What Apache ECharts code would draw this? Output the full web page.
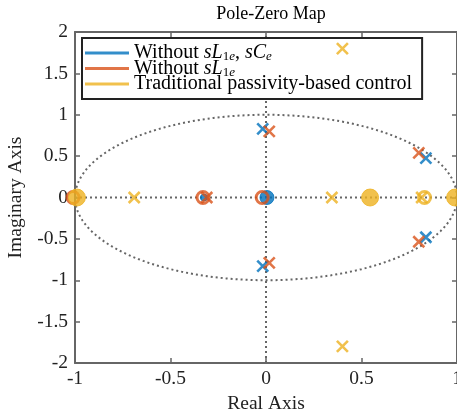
<!DOCTYPE html>
<html>
<head>
<meta charset="utf-8">
<script src="https://cdn.jsdelivr.net/npm/echarts@6/dist/echarts.min.js"></script>
<style>
  html, body { margin: 0; padding: 0; background: #fff; }
  #chart { width: 457px; height: 419px; }
</style>
</head>
<body>
<div id="chart"></div>
<script>
const seriesNames = ['Without sL1e, sCe', 'Without sL1e', 'Traditional passivity-based control'];
const xTicks = [-1, -0.5, 0, 0.5, 1];
const yTicks = [-2, -1.5, -1, -0.5, 0, 0.5, 1, 1.5, 2];

// poles (x) and zeros (o)
const bluePoles = [[-0.017, 0.83], [-0.017, -0.83], [0.837, 0.475], [0.837, -0.48]];
const blueZeros = [[-0.325, 0], [0.005, 0]];
const orangePoles = [[0.017, 0.80], [0.017, -0.79], [0.80, 0.54], [0.80, -0.535], [-0.31, 0]];
const orangeZeros = [[-0.33, 0], [-0.02, 0], [-1.01, 0]];
const yellowPoles = [[0.4, 1.8], [0.4, -1.8], [0.345, 0], [-0.69, 0], [0.815, 0]];
const yellowZeros = [[0.83, 0]];
const yellowRepeatedZeros = [[-0.99, 0], [0.545, 0], [0.99, 0]];

const colors = ['#0072BD', '#D95319', '#EDB120'];
const font = 'Liberation Serif';
const cross = 'path://M0,0L10,10M10,0L0,10';

const chart = echarts.init(document.getElementById('chart'));

// unit circle guide of the pole-zero map
const unitCircle = [];
for (let a = 0; a <= 360; a += 2) {
    unitCircle.push([Math.cos(a * Math.PI / 180), Math.sin(a * Math.PI / 180)]);
}

const guide = (name, data) => ({
    name: name,
    type: 'line',
    data: data,
    symbol: 'none',
    silent: true,
    z: 1,
    lineStyle: {color: '#666', width: 2, type: [2, 3]}
});

const poles = (i, data, z) => ({
    name: seriesNames[i],
    type: 'scatter',
    data: data,
    symbol: cross,
    symbolSize: 11,
    clip: false,
    z: z,
    itemStyle: {color: 'none', borderColor: colors[i], borderWidth: 2.6}
});

const zeros = (i, data, size, filled, z) => ({
    name: seriesNames[i],
    type: 'scatter',
    data: data,
    symbol: 'circle',
    symbolSize: size,
    clip: false,
    z: z,
    itemStyle: filled
        ? {color: colors[i], borderColor: colors[i], borderWidth: 1}
        : {color: 'rgba(0,0,0,0)', borderColor: colors[i], borderWidth: 3}
});

const rich = {
    n: {fontFamily: font, fontSize: 20, color: '#000'},
    i: {fontFamily: font, fontSize: 20, fontStyle: 'italic', color: '#000'},
    s: {fontFamily: font, fontSize: 13, color: '#000', padding: [8, 0, 0, 0]},
    si: {fontFamily: font, fontSize: 13, fontStyle: 'italic', color: '#000', padding: [8, 0, 0, 0]}
};

const legendText = {};
legendText[seriesNames[0]] = '{n|Without }{i|sL}{s|1}{si|e}{n|, }{i|sC}{si|e}';
legendText[seriesNames[1]] = '{n|Without }{i|sL}{s|1}{si|e}';
legendText[seriesNames[2]] = '{n|Traditional passivity-based control}';

const axisLabel = {fontFamily: font, fontSize: 19.5, color: '#222'};
const boxLine = {color: '#666', width: 2};
const boxTick = {inside: true, length: 5, lineStyle: {color: '#666', width: 1.5}};

chart.setOption({
    animation: false,
    title: {
        text: 'Pole-Zero Map',
        left: 266,
        textAlign: 'center',
        top: 0,
        textStyle: {fontFamily: font, fontSize: 18, fontWeight: 'normal', color: '#000'}
    },
    grid: {left: 75, right: 0, top: 32, bottom: 56, outerBoundsMode: 'none', containLabel: false},
    legend: {
        orient: 'vertical',
        left: 82,
        top: 38,
        padding: [5, 10, 5, 3],
        itemGap: -5,
        itemWidth: 44,
        itemHeight: 3,
        borderColor: '#222',
        borderWidth: 2,
        backgroundColor: '#fff',
        z: 3,
        selectedMode: false,
        data: seriesNames.map((n, i) => ({name: n, icon: 'rect', itemStyle: {color: colors[i], borderWidth: 0}})),
        formatter: name => legendText[name],
        textStyle: {rich: rich, fontSize: 20, fontFamily: font}
    },
    xAxis: [
        {
            type: 'value', min: -1, max: 1, interval: 0.5,
            name: 'Real Axis', nameLocation: 'middle', nameGap: 27,
            nameTextStyle: {fontFamily: font, fontSize: 19.5, color: '#222'},
            axisLine: {onZero: false, lineStyle: boxLine},
            axisTick: boxTick,
            axisLabel: Object.assign({margin: 6, hideOverlap: false, formatter: v => String(v)}, axisLabel),
            splitLine: {show: false}
        },
        {
            type: 'value', min: -1, max: 1, interval: 0.5, position: 'top',
            axisLine: {onZero: false, lineStyle: boxLine},
            axisTick: boxTick,
            axisLabel: {show: false},
            splitLine: {show: false}
        }
    ],
    yAxis: [
        {
            type: 'value', min: -2, max: 2, interval: 0.5,
            name: 'Imaginary Axis', nameLocation: 'middle', nameGap: 47,
            nameTextStyle: {fontFamily: font, fontSize: 19.5, color: '#222'},
            axisLine: {show: true, onZero: false, lineStyle: boxLine},
            axisTick: Object.assign({show: true}, boxTick),
            axisLabel: Object.assign({margin: 7}, axisLabel),
            splitLine: {show: false}
        },
        {
            type: 'value', min: -2, max: 2, interval: 0.5, position: 'right',
            axisLine: {show: true, onZero: false, lineStyle: boxLine},
            axisTick: Object.assign({show: true}, boxTick),
            axisLabel: {show: false},
            splitLine: {show: false}
        }
    ],
    series: [
        guide('unit circle', unitCircle),
        guide('real axis', [[-1, 0], [1, 0]]),
        guide('imaginary axis', [[0, -2], [0, 2]]),
        zeros(0, blueZeros.slice(0, 1), 7, true, 4),
        zeros(0, blueZeros.slice(1), 14, true, 4),
        poles(0, bluePoles, 4),
        zeros(1, orangeZeros, 12, false, 5),
        poles(1, orangePoles, 5),
        zeros(2, yellowRepeatedZeros, 17, true, 6),
        zeros(2, yellowZeros, 12, false, 6),
        poles(2, yellowPoles, 6)
    ]
});
</script>
</body>
</html>
